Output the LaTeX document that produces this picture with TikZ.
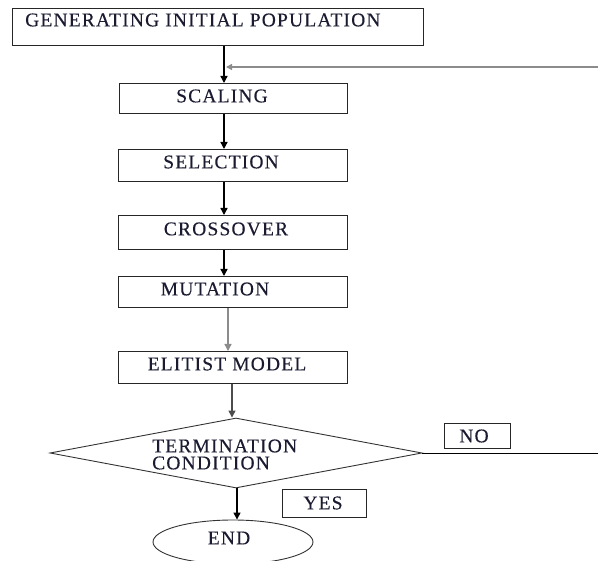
\documentclass[tikz,border=0pt]{standalone}
\usepackage{fontspec}
\setmainfont{Liberation Serif}
\usetikzlibrary{arrows.meta,shapes.geometric,calc}
\definecolor{txt}{HTML}{1A1A30}
\begin{document}
\begin{tikzpicture}[x=1pt,y=-1pt,
  box/.style={draw=black!85,line width=1.1pt,rectangle,inner sep=0pt,anchor=north west},
  lbl/.style={inner sep=0pt,text=txt,font=\fontsize{19.5}{17}\selectfont\addfontfeature{LetterSpace=6,FakeBold=0.3}},
  arr/.style={line width=1.4pt,-{Triangle[length=7pt,width=7pt]}},
  garr/.style={arr,draw=black!45}]
\useasboundingbox (0,0) rectangle (598,561);
% boxes
\node[box,minimum width=411pt,minimum height=37pt] (init) at (12,8) {};
\node[lbl,anchor=west] (initT) at (25,20) {GENERATING INITIAL POPULATION};
\node[box,minimum width=228pt,minimum height=30pt] (scale) at (119,83) {};
\node[lbl] (scaleT) at (222,96) {SCALING};
\node[box,minimum width=229pt,minimum height=32pt] (select) at (118,149) {};
\node[lbl] (selectT) at (221,162) {SELECTION};
\node[box,minimum width=229pt,minimum height=34pt] (cross) at (118,215) {};
\node[lbl] (crossT) at (226,229) {CROSSOVER};
\node[box,minimum width=229pt,minimum height=31pt] (mut) at (118,276) {};
\node[lbl] (mutT) at (215,289) {MUTATION};
\node[box,minimum width=229pt,minimum height=32pt] (elit) at (118,351) {};
\node[lbl] (elitT) at (227,364) {ELITIST MODEL};
% decision
\node[diamond,draw=black!80,line width=0.9pt,inner sep=0pt,minimum width=372pt,minimum height=70pt] (dia) at (236,453) {};
\node[lbl,anchor=west] (diaT1) at (152,446) {TERMINATION};
\node[lbl,anchor=west] (diaT2) at (152,463) {CONDITION};
\node[box,minimum width=66pt,minimum height=25pt] (no) at (444,423) {};
\node[lbl] (noT) at (474,436) {NO};
\node[box,minimum width=84pt,minimum height=28pt] (yes) at (282,489) {};
\node[lbl] (yesT) at (323,503) {YES};
\node[ellipse,draw=black!80,line width=0.9pt,inner sep=0pt,minimum width=160pt,minimum height=44pt] (end) at (233,542) {};
\node[lbl] (endT) at (229,538) {END};
% helper coordinates
\coordinate (a1) at (224,0);
\coordinate (a2) at (228,0);
\coordinate (a3) at (232,0);
\coordinate (a4) at (237,0);
\coordinate (fb) at (598,67);
\coordinate (noend) at (598,453);
% connectors
\draw[arr] (init.south -| a1) -- (scale.north -| a1);
\draw[arr] (scale.south -| a1) -- (select.north -| a1);
\draw[arr] (select.south -| a1) -- (cross.north -| a1);
\draw[arr] (cross.south -| a1) -- (mut.north -| a1);
\draw[garr] (mut.south -| a2) -- (elit.north -| a2);
\draw[arr,draw=black!70] (elit.south -| a3) -- (dia.north -| a3);
\draw[arr] (dia.south -| a4) -- (end.north -| a4);
\draw[line width=1.3pt,draw=black!45,-{Triangle[length=6pt,width=6pt]}] (fb) -- ($(fb -| a1)+(2,0)$);
\draw[line width=0.9pt] (dia.east) -- (noend);
\end{tikzpicture}
\end{document}
